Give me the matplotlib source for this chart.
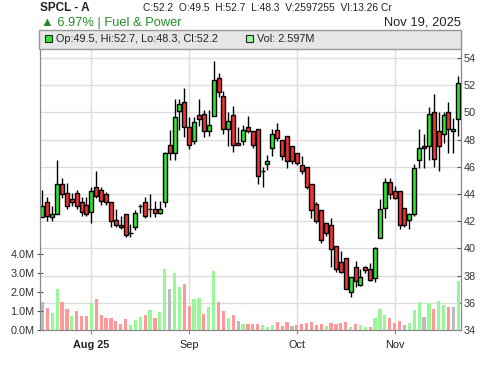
import matplotlib
matplotlib.use('Agg')
import matplotlib.pyplot as plt
from matplotlib.patches import Rectangle

plt.rcParams['font.family'] = ['Liberation Sans', 'DejaVu Sans']

# daily candles, oldest first
opens = [42.33, 43.4, 42.31, 42.51, 44.71, 44.05, 43.66, 44.05, 43.39, 43.19,
         42.65, 44.51, 44.27, 44.0, 43.39, 42.07, 41.72, 42.5, 41.1, 41.57,
         43.1, 43.41, 42.87, 42.87, 42.58, 43.43, 47.6, 47.0, 50.13, 50.73,
         48.9, 47.9, 49.8, 49.86, 48.6, 49.71, 52.5, 51.18, 48.75, 49.79,
         47.75, 47.9, 48.9, 48.6, 48.75, 45.66, 46.17, 47.36, 48.68, 47.95,
         48.24, 47.5, 46.99, 46.1, 45.95, 44.71, 43.24, 42.8, 41.84, 41.7,
         40.15, 38.97, 39.27, 36.77, 38.65, 37.29, 38.6, 38.49, 37.8, 40.74,
         42.95, 44.86, 44.2, 44.2, 42.95, 42.07, 42.5, 46.47, 47.5, 47.5,
         50.0, 48.6, 48.39, 50.0, 48.6, 49.5]
highs = [44.29, 43.8, 43.14, 46.5, 45.18, 44.79, 44.05, 44.29, 43.8, 43.8,
         44.54, 45.69, 44.54, 44.17, 43.39, 42.87, 42.4, 42.5, 41.79, 42.82,
         43.3, 43.8, 44.0, 43.5, 43.5, 47.1, 48.7, 51.0, 51.0, 51.77,
         49.68, 49.68, 50.96, 50.2, 50.2, 53.76, 52.87, 51.55, 50.0, 50.45,
         48.9, 49.1, 49.7, 48.6, 48.75, 45.95, 46.84, 48.75, 49.2, 47.95,
         48.24, 47.5, 47.0, 46.77, 45.95, 44.71, 43.4, 42.8, 41.9, 42.2,
         40.15, 39.83, 39.27, 37.92, 39.07, 38.5, 38.73, 38.9, 40.12, 43.61,
         45.15, 45.15, 44.57, 44.2, 42.95, 42.6, 46.18, 48.8, 48.39, 50.37,
         51.33, 50.0, 50.0, 50.73, 49.6, 52.7]
lows = [42.3, 42.0, 42.04, 42.5, 43.68, 42.87, 43.12, 42.9, 42.4, 42.4,
        41.86, 43.68, 43.17, 43.17, 41.57, 41.54, 41.4, 40.86, 40.86, 41.35,
        42.6, 42.2, 42.3, 42.3, 42.5, 43.07, 46.5, 46.5, 48.7, 48.2,
        47.3, 47.7, 49.0, 48.2, 48.3, 49.71, 51.15, 48.39, 47.5, 47.06,
        47.6, 47.6, 48.45, 47.36, 44.7, 44.54, 45.8, 46.76, 47.9, 46.48,
        45.9, 46.18, 46.1, 45.45, 44.34, 42.2, 41.84, 40.4, 40.9, 38.66,
        38.3, 38.17, 36.99, 36.45, 37.14, 37.24, 38.17, 37.6, 37.5, 40.74,
        42.2, 43.61, 43.61, 41.4, 41.55, 41.4, 42.4, 45.88, 45.88, 46.47,
        45.95, 45.66, 47.72, 46.99, 47.0, 48.3]
closes = [43.12, 42.38, 42.53, 44.71, 44.0, 43.12, 43.39, 43.12, 42.65, 42.53,
          44.2, 43.87, 43.46, 43.39, 42.0, 41.7, 41.57, 40.96, 41.1, 42.6,
          43.1, 42.36, 42.87, 42.58, 42.87, 47.0, 47.0, 49.68, 50.6, 48.9,
          47.6, 49.27, 49.5, 48.6, 49.1, 52.36, 51.47, 48.75, 49.34, 47.6,
          47.6, 48.7, 48.6, 47.58, 45.3, 45.66, 46.46, 48.39, 48.1, 46.8,
          46.4, 46.4, 46.26, 45.67, 44.49, 42.8, 41.99, 40.6, 41.1, 39.98,
          38.46, 38.24, 37.04, 37.92, 37.58, 37.92, 38.4, 37.68, 40.0, 42.87,
          44.86, 43.98, 43.68, 41.7, 41.7, 42.5, 45.88, 47.36, 47.36, 49.86,
          46.55, 47.5, 49.79, 48.8, 48.8, 52.2]
# volume in millions
volumes = [1.49, 1.16, 0.89, 2.16, 1.47, 1.1, 0.74, 1.0, 0.74, 0.74,
           1.4, 1.63, 0.79, 0.63, 0.63, 0.47, 0.32, 0.58, 0.26, 0.53,
           0.68, 0.79, 1.05, 0.63, 0.95, 3.21, 2.16, 3.0, 2.26, 2.44,
           1.26, 1.63, 1.68, 0.84, 1.21, 3.1, 1.47, 1.0, 0.63, 0.79,
           0.47, 0.32, 0.32, 0.32, 0.32, 0.26, 0.16, 0.26, 0.42, 0.21,
           0.42, 0.21, 0.26, 0.32, 0.37, 0.42, 0.26, 0.3, 0.2, 0.35,
           0.3, 0.35, 0.4, 0.14, 0.32, 0.26, 0.16, 0.16, 0.63, 1.1,
           0.79, 0.63, 0.37, 0.47, 0.26, 0.37, 1.05, 1.47, 0.68, 1.42,
           1.1, 1.53, 1.32, 1.21, 1.21, 2.6]

month_idx = [10, 30, 52, 72]
month_labels = ['Aug 25', 'Sep', 'Oct', 'Nov']
price_ticks = [34, 36, 38, 40, 42, 44, 46, 48, 50, 52, 54]
vol_ticks = [0, 1, 2, 3, 4]

n = len(closes)
xs = list(range(n))

fig = plt.figure(figsize=(5, 3.66), dpi=100)
axp = fig.add_axes([0.08, 0.0984, 0.8414, 0.8196])
axv = axp.twinx()

# price axis on the right
axp.yaxis.tick_right()
axp.set_ylim(34, 56.06)
axp.set_yticks(price_ticks)
axp.set_xlim(-0.5, 85.5)
axp.set_xticks(month_idx)
axp.set_xticklabels(month_labels)
axp.get_xticklabels()[0].set_fontweight('bold')
axp.grid(True, color='#dddddd', linewidth=1)
axp.set_axisbelow(True)
axp.tick_params(axis='y', which='both', direction='in', length=3,
                labelsize=7.8, labelcolor='#333333', color='#555555', pad=2,
                right=True, left=False, labelright=True, labelleft=False)
axp.tick_params(axis='x', direction='out', length=3, labelsize=7.8,
                labelcolor='#222222', color='#888888', pad=4)

axp.vlines(xs, lows, highs, color='black', linewidth=1, zorder=2)
body_col = ['#2ee82e' if c >= o else '#ee3333' for o, c in zip(opens, closes)]
axp.bar(xs, [c - o for o, c in zip(opens, closes)], bottom=opens, width=0.82,
        color=body_col, edgecolor='black', linewidth=1, zorder=3)

# volume on the left, coloured by close-to-close change
vcol = ['#bbbbbb']
for i in range(1, n):
    if closes[i] > closes[i - 1]:
        vcol.append('#98f898')
    elif closes[i] < closes[i - 1]:
        vcol.append('#ff9999')
    else:
        vcol.append('#bbbbbb')
axv.bar(xs, volumes, width=0.66, color=vcol, linewidth=0, zorder=1)
axv.set_ylim(0, 15.79)
axv.set_yticks(vol_ticks)
axv.set_yticklabels(['%.1fM' % v for v in vol_ticks])
axv.yaxis.tick_left()
axv.tick_params(axis='y', direction='inout', length=4, labelsize=7.8,
                labelcolor='#333333', color='#555555', pad=2,
                left=True, right=False, labelleft=True, labelright=False)
axv.set_xlim(-0.5, 85.5)

for a in (axp, axv):
    a.spines['top'].set_visible(False)
    for s in ('left', 'right', 'bottom'):
        a.spines[s].set_color('#888888')

# header
fig.text(0.08, 0.978, 'SPCL - A', fontsize=8.5, fontweight='bold',
         color='#222222', va='center')
fig.text(0.286, 0.978,
         'C:52.2  O:49.5  H:52.7  L:48.3  V:2597255  Vl:13.26 Cr',
         fontsize=7.4, color='#222222', va='center')
fig.text(0.082, 0.938, '\u25b2 6.97% | Fuel & Power', fontsize=9.3,
         color='#2a8a2a', va='center')
fig.text(0.921, 0.938, 'Nov 19, 2025', fontsize=9.3, color='#222222',
         va='center', ha='right')

# legend strip across the top of the plot
fig.add_artist(Rectangle((0.0786, 0.866), 0.8428, 0.052,
                         transform=fig.transFigure, facecolor='#e6e6e6',
                         edgecolor='#999999', linewidth=1, zorder=10))
fig.add_artist(Rectangle((0.09, 0.8855), 0.014, 0.019,
                         transform=fig.transFigure, facecolor='#2ee82e',
                         edgecolor='#222222', linewidth=0.8, zorder=11))
fig.text(0.113, 0.894, 'Op:49.5, Hi:52.7, Lo:48.3, Cl:52.2', fontsize=7.8,
         color='#222222', va='center', zorder=11)
fig.add_artist(Rectangle((0.491, 0.8855), 0.014, 0.019,
                         transform=fig.transFigure, facecolor='#98f898',
                         edgecolor='#222222', linewidth=0.8, zorder=11))
fig.text(0.514, 0.894, 'Vol: 2.597M', fontsize=7.8, color='#222222',
         va='center', zorder=11)

fig.savefig('out.png', dpi=100)
